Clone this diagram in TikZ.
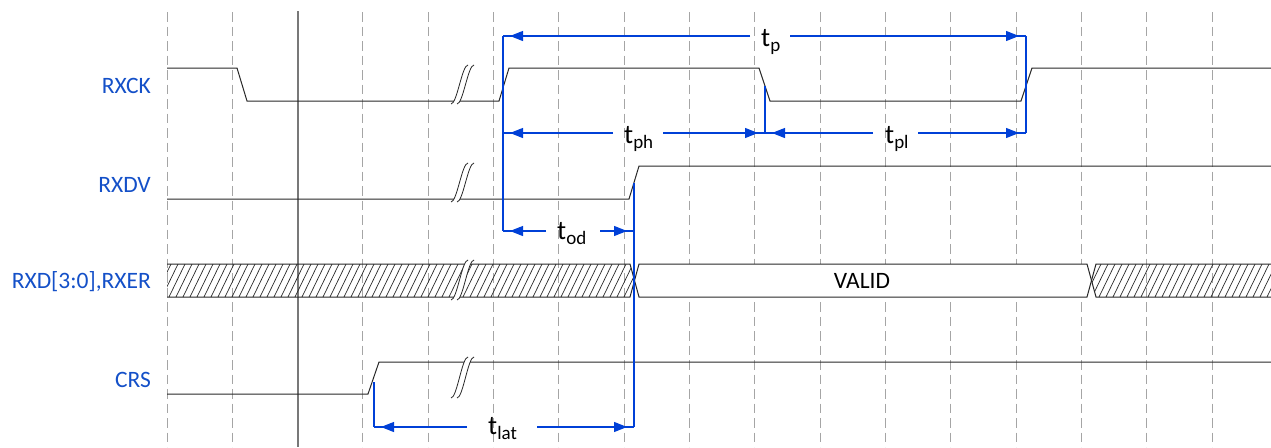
\documentclass[tikz,border=0pt]{standalone}
\usepackage{fontspec}
\setmainfont{Carlito}
\usetikzlibrary{arrows.meta}
\definecolor{sigblue}{RGB}{20,80,200}
\definecolor{lnblue}{RGB}{0,64,215}
\definecolor{gridgray}{RGB}{165,165,165}
\definecolor{solidgray}{RGB}{120,120,120}
\definecolor{wavecol}{RGB}{40,40,40}
\newcommand\tsub[1]{\raisebox{-5pt}{\fontsize{19}{19}\selectfont #1}}
\begin{document}
\begin{tikzpicture}[x=1pt,y=-1pt,
  gridline/.style={gridgray, line width=1pt, dash pattern=on 9.5pt off 5pt},
  gridsolid/.style={solidgray, line width=1.5pt},
  wave/.style={wavecol, line width=1pt},
  hatchline/.style={wavecol, line width=0.7pt},
  meas/.style={lnblue, line width=1.1pt},
  mtip/.style={lnblue, line width=1.1pt, -{Triangle[length=13pt,width=10pt]}, shorten >=7pt},
  siglabel/.style={anchor=base east, text=sigblue, inner sep=0pt, font=\fontsize{23.5}{23.5}\selectfont},
  tlabel/.style={anchor=base west, inner sep=0pt, font=\fontsize{27}{27}\selectfont},
  brk/.style={wavecol, line width=0.8pt},
]
\useasboundingbox (0,0) rectangle (1271,447);

% grid
\foreach \k in {0,1,3,4,5,6,7,8,9,10,11,12,13,14,15,16}
  \draw[gridline] ({167+65.3125*\k},12) -- ({167+65.3125*\k},447);
\draw[gridsolid] (298,11) -- (298,447);

% waveforms
\draw[wave] (167,68) -- (237,68) -- (247,101) -- (499,101) -- (509,68) -- (759,68)
  -- (770,101) -- (1021,101) -- (1032,68) -- (1271,68);
\draw[wave] (167,199) -- (629,199) -- (639,166) -- (1271,166);
\draw[wave] (167,394) -- (368,394) -- (379,362) -- (1271,362);

% bus
\begin{scope}
  \clip (167,264) -- (630,264) -- (634.5,280.5) -- (630,297) -- (167,297) -- cycle;
  \foreach \i in {0,...,70} \draw[hatchline] ({155+7*\i},297) -- ({171+7*\i},264);
\end{scope}
\begin{scope}
  \clip (1271,264) -- (1096,264) -- (1091.5,280.5) -- (1096,297) -- (1271,297) -- cycle;
  \foreach \i in {0,...,28} \draw[hatchline] ({1078+7*\i},297) -- ({1094+7*\i},264);
\end{scope}
\fill[white] (639,264) -- (1087,264) -- (1091.5,280.5) -- (1087,297) -- (639,297) -- (634.5,280.5) -- cycle;
\draw[wave] (167,264) -- (630,264) -- (639,297) -- (1087,297) -- (1096,264) -- (1271,264);
\draw[wave] (167,297) -- (630,297) -- (639,264) -- (1087,264) -- (1096,297) -- (1271,297);
\node[anchor=base, inner sep=0pt, font=\fontsize{23.5}{23.5}\selectfont] (valid) at (862,288) {VALID};

% breaks
\foreach \yt/\yb in {65/104, 163/202, 260/300, 357/398} {
  \fill[white] (451,\yb) .. controls (457,\yb) and (462,\yt) .. (468,\yt)
    -- (474,\yt) .. controls (468,\yt) and (463,\yb) .. (457,\yb) -- cycle;
  \draw[brk] (451,\yb) .. controls (457,\yb) and (462,\yt) .. (468,\yt);
  \draw[brk] (457,\yb) .. controls (463,\yb) and (468,\yt) .. (474,\yt);
}

% measurement coordinates
\coordinate (pA) at (503,36);
\coordinate (pB) at (1026,36);
\coordinate (gp1) at (750,36);
\coordinate (gp2) at (790,36);
\coordinate (phA) at (503,133);
\coordinate (phB) at (765,133);
\coordinate (gph1) at (613,133);
\coordinate (gph2) at (663,133);
\coordinate (plB) at (1026,133);
\coordinate (gpl1) at (873,133);
\coordinate (gpl2) at (918,133);
\coordinate (v2top) at (765,86);
\coordinate (odA) at (503,231);
\coordinate (odB) at (634,231);
\coordinate (god1) at (546,231);
\coordinate (god2) at (600,231);
\coordinate (v4top) at (634,183);
\coordinate (latA) at (374,427);
\coordinate (latB) at (634,427);
\coordinate (glat1) at (467,427);
\coordinate (glat2) at (537,427);
\coordinate (v5top) at (374,382);

% verticals
\draw[meas] (pA) -- (odA);
\draw[meas] (v2top) -- (phB);
\draw[meas] (pB) -- (plB);
\draw[meas] (v4top) -- (latB);
\draw[meas] (v5top) -- (latA);

% horizontal measures
\foreach \a/\b/\c/\d in {pA/gp1/gp2/pB, phA/gph1/gph2/phB, phB/gpl1/gpl2/plB, odA/god1/god2/odB, latA/glat1/glat2/latB} {
  \draw[meas] (\a) -- (\b);
  \draw[meas] (\c) -- (\d);
  \draw[mtip] (\b) -- (\a);
  \draw[mtip] (\c) -- (\d);
}

% timing labels
\node[tlabel] (ltp) at (761,46) {t\tsub{p}};
\node[tlabel] (ltph) at (624,143) {t\tsub{ph}};
\node[tlabel] (ltpl) at (885,143) {t\tsub{pl}};
\node[tlabel] (ltod) at (557,239) {t\tsub{od}};
\node[tlabel] (ltlat) at (488,434) {t\tsub{lat}};

% signal labels
\node[siglabel] (lrxck) at (151,93) {RXCK};
\node[siglabel] (lrxdv) at (151,192) {RXDV};
\node[siglabel] (lrxd) at (151,288) {RXD[3:0],RXER};
\node[siglabel] (lcrs) at (151,387) {CRS};
\end{tikzpicture}
\end{document}
